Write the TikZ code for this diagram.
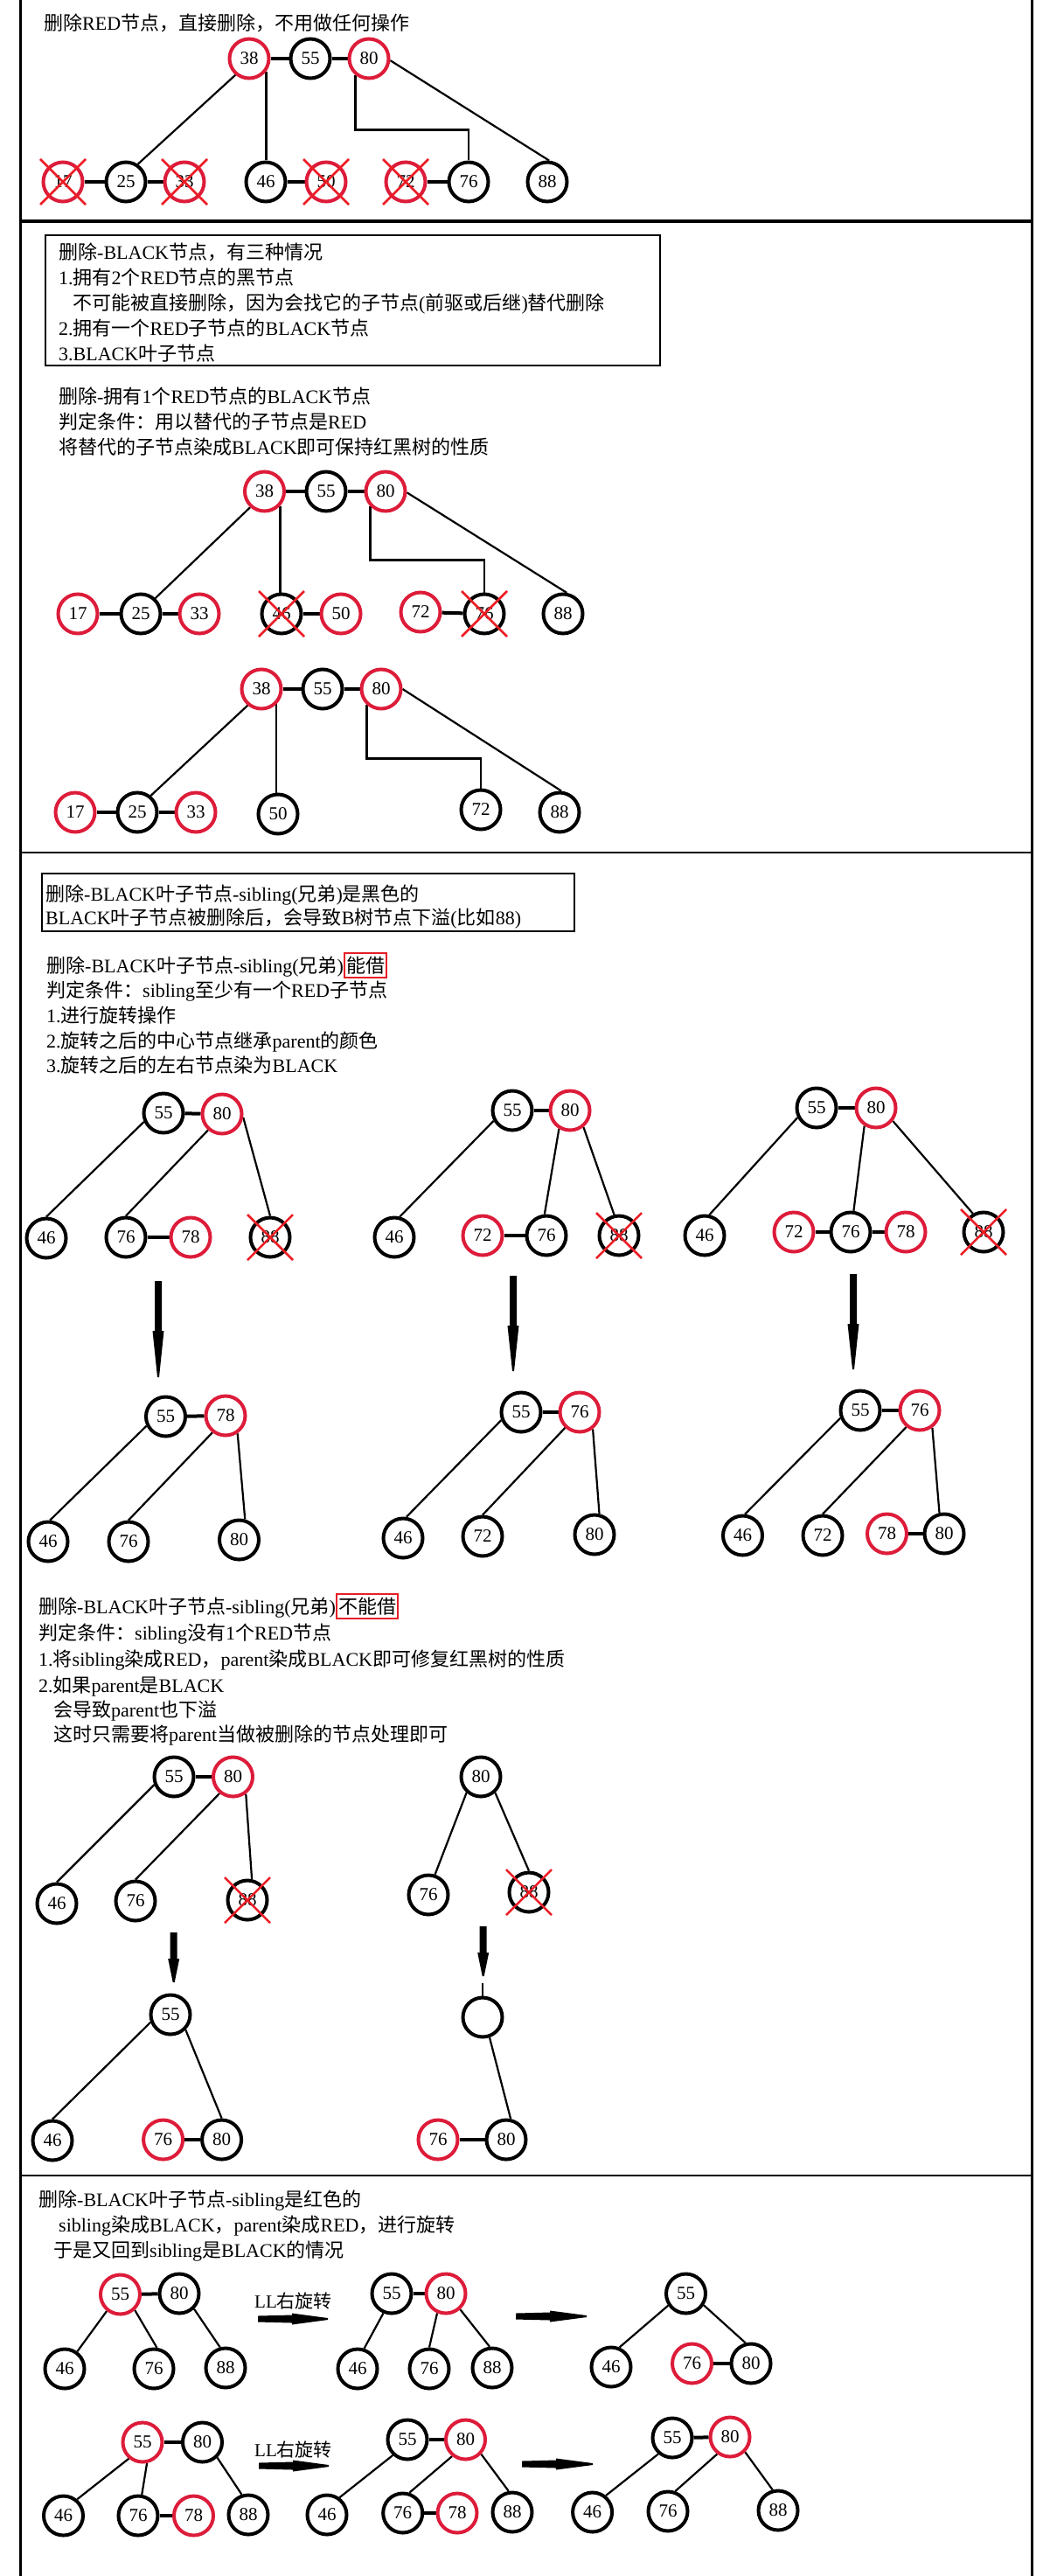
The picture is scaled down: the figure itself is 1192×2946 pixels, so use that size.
\documentclass[tikz,border=0pt]{standalone}
\usepackage{fontspec}
\setmainfont{Liberation Serif}
\newfontfamily\latb{Liberation Serif}
\newfontfamily\hanf{Noto Sans CJK SC}
\newfontfamily\numf{Liberation Serif}
\usetikzlibrary{calc}

% Han characters and full-width punctuation switch to the CJK face automatically
\XeTeXinterchartokenstate=1
\newXeTeXintercharclass\hanclass
\newcount\hanc
\def\sethanrange#1#2{\hanc=#1\relax
  \loop\XeTeXcharclass\hanc=\hanclass\relax
  \ifnum\hanc<#2\relax\advance\hanc by 1\relax\repeat}
\sethanrange{"3000}{"303F}
\sethanrange{"4E00}{"9FFF}
\sethanrange{"FF00}{"FFEF}
\XeTeXinterchartoks 0 \hanclass = {\hanf}
\XeTeXinterchartoks 4095 \hanclass = {\hanf}
\XeTeXinterchartoks \hanclass 0 = {\latb}
\XeTeXinterchartoks \hanclass 4095 = {\latb}

\definecolor{nodered}{RGB}{221,28,58}
\definecolor{xred}{RGB}{236,28,36}
\definecolor{boxred}{RGB}{230,30,40}

\pgfdeclarelayer{bg}
\pgfsetlayers{bg,main}

% thick downward arrow: x, top, head start, tip
\newcommand\dnarrow[4]{\fill (#1-4,#2) -- (#1+4,#2) -- (#1+4,#3) -- (#1+6.5,#3) -- (#1+1,#4) -- (#1-1,#4) -- (#1-6.5,#3) -- (#1-4,#3) -- cycle;}
% thick rightward arrow: y, start, head start, tip
\newcommand\rtarrow[4]{\fill (#2,#1-3.5) -- (#3,#1-4.5) -- (#3,#1-6.5) -- (#4,#1-1) -- (#4,#1+1) -- (#3,#1+6.5) -- (#3,#1+4.5) -- (#2,#1+3.5) -- cycle;}
% red cross over a deleted node
\newcommand\crossed[1]{\draw[xline] ([shift={(-26,-26)}]#1.center) -- ([shift={(26,26)}]#1.center)
  ([shift={(-26,26)}]#1.center) -- ([shift={(26,-26)}]#1.center);}

\begin{document}
\begin{tikzpicture}[x=1pt,y=-1pt,
  bn/.style={circle, draw=black, line width=4pt, minimum size=45pt, inner sep=0pt,
             font=\numf\fontsize{21}{21}\selectfont},
  rn/.style={bn, draw=nodered},
  link/.style={line width=2.2pt},
  elbow/.style={line width=2.6pt},
  sib/.style={line width=4pt},
  xline/.style={draw=xred, line width=2.5pt},
  txt/.style={anchor=base west, inner sep=0pt, font=\latb\fontsize{22}{26}\selectfont},
  hlbox/.style={anchor=base west, draw=boxred, line width=2pt, inner xsep=2pt, inner ysep=1.5pt,
                text height=21pt, text depth=4pt, font=\latb\fontsize{22}{26}\selectfont},
  lltxt/.style={anchor=base west, inner sep=0pt, font=\latb\fontsize{21}{25}\selectfont}]

\begin{pgfonlayer}{bg}
\fill[white] (0,0) rectangle (1192,2946);
\end{pgfonlayer}
\useasboundingbox (0,0) rectangle (1192,2946);

% outer frame and section rules
\draw[line width=3pt] (23,0) -- (23,2946) (1180,0) -- (1180,2946);
\draw[line width=3.5pt] (23,253) -- (1180,253);
\draw[line width=2pt] (23,975) -- (1180,975);
\draw[line width=2pt] (23,2488) -- (1180,2488);

% ---------------- section 1: deleting a red node ----------------
\node[txt] (t1) at (50,35) {删除RED节点，直接删除，不用做任何操作};
\node[rn] (a38) at (285,67) {38};
\node[bn] (a55) at (355,67) {55};
\node[rn] (a80) at (422,67) {80};
\node[rn] (a17) at (72,208) {17};
\node[bn] (a25) at (144,208) {25};
\node[rn] (a33) at (211,208) {33};
\node[bn] (a46) at (304,208) {46};
\node[rn] (a50) at (373,208) {50};
\node[rn] (a72) at (464,208) {72};
\node[bn] (a76) at (536,208) {76};
\node[bn] (a88) at (626,208) {88};
\begin{pgfonlayer}{bg}
\draw[sib] (a38) -- (a55); \draw[sib] (a55) -- (a80);
\draw[sib] (a17) -- (a25); \draw[sib] (a25) -- (a33);
\draw[sib] (a46) -- (a50); \draw[sib] (a72) -- (a76);
\draw[link] (a38.-130) -- (a25.56);
\draw[link] (a38.-37) -- (a38.-37 |- a46.north);
\draw[elbow] (a80.-130) |- ($(a76.north)+(0,-35)$) -- (a76.north);
\draw[link] (a80.-5) -- (a88.85);
\end{pgfonlayer}
\crossed{a17} \crossed{a33} \crossed{a50} \crossed{a72}

% ---------------- section 2: deleting a black node ----------------
\draw[line width=1.3pt] (52,269) rectangle (755,418);
\node[txt] (t2) at (67,296) {删除-BLACK节点，有三种情况};
\node[txt] (t3) at (67,325) {1.拥有2个RED节点的黑节点};
\node[txt] (t4) at (83,354) {不可能被直接删除，因为会找它的子节点(前驱或后继)替代删除};
\node[txt] (t5) at (67,383) {2.拥有一个RED子节点的BLACK节点};
\node[txt] (t6) at (67,412) {3.BLACK叶子节点};
\node[txt] (t7) at (67,461) {删除-拥有1个RED节点的BLACK节点};
\node[txt] (t8) at (67,490) {判定条件：用以替代的子节点是RED};
\node[txt] (t9) at (67,519) {将替代的子节点染成BLACK即可保持红黑树的性质};

\node[rn] (b38) at (302.5,562) {38};
\node[bn] (b55) at (373,562) {55};
\node[rn] (b80) at (441,562) {80};
\node[rn] (b17) at (89,702) {17};
\node[bn] (b25) at (161,702) {25};
\node[rn] (b33) at (228,702) {33};
\node[bn] (b46) at (322,702) {46};
\node[rn] (b50) at (390,702) {50};
\node[rn] (b72) at (481,700) {72};
\node[bn] (b76) at (554,702) {76};
\node[bn] (b88) at (644,702) {88};
\begin{pgfonlayer}{bg}
\draw[sib] (b38) -- (b55); \draw[sib] (b55) -- (b80);
\draw[sib] (b17) -- (b25); \draw[sib] (b25) -- (b33);
\draw[sib] (b46) -- (b50); \draw[sib] (b72) -- (b76);
\draw[link] (b38.-132) -- (b25.47);
\draw[link] (b38.-43) -- (b38.-43 |- b46.north);
\draw[elbow] (b80.-135) |- ($(b76.north)+(0,-37)$) -- (b76.north);
\draw[link] (b80.-3) -- (b88.80);
\end{pgfonlayer}
\crossed{b46} \crossed{b76}

\node[rn] (c38) at (299,788) {38};
\node[bn] (c55) at (369,788) {55};
\node[rn] (c80) at (436,788) {80};
\node[rn] (c17) at (86,929) {17};
\node[bn] (c25) at (157,929) {25};
\node[rn] (c33) at (224,929) {33};
\node[bn] (c50) at (318,931) {50};
\node[bn] (c72) at (550,926) {72};
\node[bn] (c88) at (640,929) {88};
\begin{pgfonlayer}{bg}
\draw[sib] (c38) -- (c55); \draw[sib] (c55) -- (c80);
\draw[sib] (c17) -- (c25); \draw[sib] (c25) -- (c33);
\draw[link] (c38.-130) -- (c25.51);
\draw[link] (c38.-45) -- (c38.-45 |- c50.north);
\draw[elbow] (c80.-132) |- ($(c72.north)+(0,-34)$) -- (c72.north);
\draw[link] (c80.0) -- (c88.85);
\end{pgfonlayer}

% ---------------- section 3: deleting a black leaf, black sibling ----------------
\draw[line width=1.5pt] (48,999) rectangle (657,1065);
\node[txt] (t10) at (52,1030) {删除-BLACK叶子节点-sibling(兄弟)是黑色的};
\node[txt] (t11) at (52,1057) {BLACK叶子节点被删除后，会导致B树节点下溢(比如88)};
\node[txt] (t12) at (53,1112) {删除-BLACK叶子节点-sibling(兄弟)};
\node[hlbox] (t12b) at (t12.base east) {能借};
\node[txt] (t13) at (53,1140) {判定条件：sibling至少有一个RED子节点};
\node[txt] (t14) at (53,1169) {1.进行旋转操作};
\node[txt] (t15) at (53,1198) {2.旋转之后的中心节点继承parent的颜色};
\node[txt] (t16) at (53,1226) {3.旋转之后的左右节点染为BLACK};

% before rotation
\node[bn] (d55) at (187,1273) {55};
\node[rn] (d80) at (254,1274) {80};
\node[bn] (d46) at (53,1416) {46};
\node[bn] (d76) at (144,1415) {76};
\node[rn] (d78) at (218,1415) {78};
\node[bn] (d88) at (309,1415) {88};
\node[bn] (e55) at (586,1270) {55};
\node[rn] (e80) at (652,1270) {80};
\node[bn] (e46) at (451,1415) {46};
\node[rn] (e72) at (552,1413) {72};
\node[bn] (e76) at (625,1413) {76};
\node[bn] (e88) at (708,1413) {88};
\node[bn] (f55) at (934,1267) {55};
\node[rn] (f80) at (1002,1267) {80};
\node[bn] (f46) at (806,1413) {46};
\node[rn] (f72) at (908,1409) {72};
\node[bn] (f76) at (973,1409) {76};
\node[rn] (f78) at (1036,1409) {78};
\node[bn] (f88) at (1125,1409) {88};
% after rotation
\node[bn] (g55) at (189.5,1620) {55};
\node[rn] (g78) at (258,1619) {78};
\node[bn] (g46) at (55,1763) {46};
\node[bn] (g76) at (147,1763) {76};
\node[bn] (g80) at (273.5,1761) {80};
\node[bn] (h55) at (596,1615) {55};
\node[rn] (h76) at (663,1615) {76};
\node[bn] (h46) at (461,1759) {46};
\node[bn] (h72) at (552,1757) {72};
\node[bn] (h80) at (680,1755) {80};
\node[bn] (i55) at (984,1613) {55};
\node[rn] (i76) at (1052,1613) {76};
\node[bn] (i46) at (849.5,1756) {46};
\node[bn] (i72) at (941,1756) {72};
\node[rn] (i78) at (1014.5,1754) {78};
\node[bn] (i80) at (1080,1754) {80};
\begin{pgfonlayer}{bg}
\draw[sib] (d55) -- (d80); \draw[sib] (d76) -- (d78);
\draw[link] (d55.-156) -- (d46.north);
\draw[link] (d80.-131) -- (d76.north);
\draw[link] (d80.-9) -- (d88.north);
\draw[sib] (e55) -- (e80); \draw[sib] (e72) -- (e76);
\draw[link] (e55.-151) -- (e46.75);
\draw[link] (e80.-121) -- (e76.95);
\draw[link] (e80.-51) -- (e88.103);
\draw[sib] (f55) -- (f80); \draw[sib] (f72) -- (f76); \draw[sib] (f76) -- (f78);
\draw[link] (f55.-153) -- (f46.77);
\draw[link] (f80.-123) -- (f76.82);
\draw[link] (f80.-38) -- (f88.120);
\draw[sib] (g55) -- (g78);
\draw[link] (g55.-154) -- (g46.85);
\draw[link] (g78.-128) -- (g76.north);
\draw[link] (g78.-56) -- (g80.74);
\draw[sib] (h55) -- (h76);
\draw[link] (h55.-158) -- (h46.81);
\draw[link] (h76.-133) -- (h72.north);
\draw[link] (h76.-52) -- (h80.77);
\draw[sib] (i55) -- (i76); \draw[sib] (i78) -- (i80);
\draw[link] (i55.-159) -- (i46.84);
\draw[link] (i76.-129) -- (i72.north);
\draw[link] (i76.-54) -- (i80.103);
\end{pgfonlayer}
\crossed{d88} \crossed{e88} \crossed{f88}
\dnarrow{181}{1465}{1522}{1575}
\dnarrow{587}{1459}{1516}{1568}
\dnarrow{976}{1457}{1514}{1566}

% sibling cannot lend
\node[txt] (t17) at (44,1845) {删除-BLACK叶子节点-sibling(兄弟)};
\node[hlbox] (t17b) at (t17.base east) {不能借};
\node[txt] (t18) at (44,1875) {判定条件：sibling没有1个RED节点};
\node[txt] (t19) at (44,1905) {1.将sibling染成RED，parent染成BLACK即可修复红黑树的性质};
\node[txt] (t20) at (44,1935) {2.如果parent是BLACK};
\node[txt] (t21) at (61,1963) {会导致parent也下溢};
\node[txt] (t22) at (61,1991) {这时只需要将parent当做被删除的节点处理即可};

\node[bn] (j55) at (199,2032) {55};
\node[rn] (j80) at (266.5,2032) {80};
\node[bn] (j46) at (65,2177) {46};
\node[bn] (j76) at (155,2174) {76};
\node[bn] (j88) at (283,2173) {88};
\node[bn] (k55) at (195,2304) {55};
\node[bn] (k46) at (60,2448) {46};
\node[rn] (k76) at (186.6,2447) {76};
\node[bn] (k80) at (253.6,2447) {80};
\node[bn] (m80) at (550,2032) {80};
\node[bn] (m76) at (490,2167) {76};
\node[bn] (m88) at (605,2164) {88};
\node[bn] (nE) at (552,2307) {};
\coordinate (n0) at (552,2268);
\node[rn] (n76) at (501,2447) {76};
\node[bn] (n80) at (579,2447) {80};
\begin{pgfonlayer}{bg}
\draw[sib] (j55) -- (j80);
\draw[link] (j55.-158) -- (j46.north);
\draw[link] (j80.-129) -- (j76.north);
\draw[link] (j80.-53) -- (j88.78);
\draw[sib] (k76) -- (k80);
\draw[link] (k55.-159) -- (k46.north);
\draw[link] (k55.-45) -- (k80.north);
\draw[link] (m80.-132) -- (m76.72);
\draw[link] (m80.-48) -- (m88.north);
\draw[link] (n0) -- (nE.north);
\draw[link] (nE.-71) -- (n80.78);
\draw[sib] (n76) -- (n80);
\end{pgfonlayer}
\crossed{j88} \crossed{m88}
\dnarrow{198.7}{2210}{2240}{2267}
\dnarrow{552.7}{2203}{2233}{2260}

% ---------------- section 4: deleting a black leaf, red sibling ----------------
\node[txt] (t23) at (44,2523) {删除-BLACK叶子节点-sibling是红色的};
\node[txt] (t24) at (67,2552) {sibling染成BLACK，parent染成RED，进行旋转};
\node[txt] (t25) at (61,2581) {于是又回到sibling是BLACK的情况};

\node[rn] (p55) at (137.5,2624) {55};
\node[bn] (p80) at (205,2623) {80};
\node[bn] (p46) at (74,2709) {46};
\node[bn] (p76) at (176,2709) {76};
\node[bn] (p88) at (258,2708) {88};
\node[lltxt] (t26) at (291,2639) {LL右旋转};
\node[bn] (q55) at (448,2623) {55};
\node[rn] (q80) at (510,2623) {80};
\node[bn] (q46) at (409,2709) {46};
\node[bn] (q76) at (491,2709) {76};
\node[bn] (q88) at (563,2708) {88};
\node[bn] (r55) at (784.5,2623) {55};
\node[bn] (r46) at (699,2707) {46};
\node[rn] (r76) at (791.5,2703) {76};
\node[bn] (r80) at (859,2703) {80};

\node[rn] (s55) at (163,2793) {55};
\node[bn] (s80) at (231.5,2793) {80};
\node[bn] (s46) at (72.5,2877) {46};
\node[bn] (s76) at (158,2877) {76};
\node[rn] (s78) at (221.5,2877) {78};
\node[bn] (s88) at (284,2876) {88};
\node[lltxt] (t27) at (291,2809) {LL右旋转};
\node[bn] (u55x) at (466,2790) {55};
\node[rn] (u80x) at (532.5,2790) {80};
\node[bn] (u46x) at (374,2876) {46};
\node[bn] (u76x) at (460.7,2874) {76};
\node[rn] (u78x) at (523,2874) {78};
\node[bn] (u88x) at (586,2873) {88};
\node[bn] (v55) at (769,2788) {55};
\node[rn] (v80) at (835,2787) {80};
\node[bn] (v46) at (677.6,2873) {46};
\node[bn] (v76) at (764,2872) {76};
\node[bn] (v88) at (890,2871) {88};
\begin{pgfonlayer}{bg}
\draw[sib] (p55) -- (p80);
\draw[link] (p55.-129) -- (p46.54);
\draw[link] (p55.-47) -- (p76.82);
\draw[link] (p80.-46) -- (p88.105);
\draw[sib] (q55) -- (q80);
\draw[link] (q55.-113) -- (q46.72);
\draw[link] (q80.-114) -- (q76.north);
\draw[link] (q80.-48) -- (q88.97);
\draw[sib] (r76) -- (r80);
\draw[link] (r55.-146) -- (r46.67);
\draw[link] (r55.-33) -- (r80.105);
\draw[sib] (s55) -- (s80); \draw[sib] (s76) -- (s78);
\draw[link] (s55.-130) -- (s46.50);
\draw[link] (s55.-78) -- (s76.80);
\draw[link] (s80.-46) -- (s88.108);
\draw[sib] (u55x) -- (u80x); \draw[sib] (u76x) -- (u78x);
\draw[link] (u55x.-133) -- (u46x.54);
\draw[link] (u80x.-129) -- (u76x.72);
\draw[link] (u80x.-43) -- (u88x.100);
\draw[sib] (v55) -- (v80);
\draw[link] (v55.-131) -- (v46.51);
\draw[link] (v80.-127) -- (v76.70);
\draw[link] (v80.-45) -- (v88.105);
\end{pgfonlayer}
\rtarrow{2652}{295}{334}{375}
\rtarrow{2649}{590}{629}{671}
\rtarrow{2820}{296}{335}{376}
\rtarrow{2818}{597}{636}{678}

\end{tikzpicture}
\end{document}
